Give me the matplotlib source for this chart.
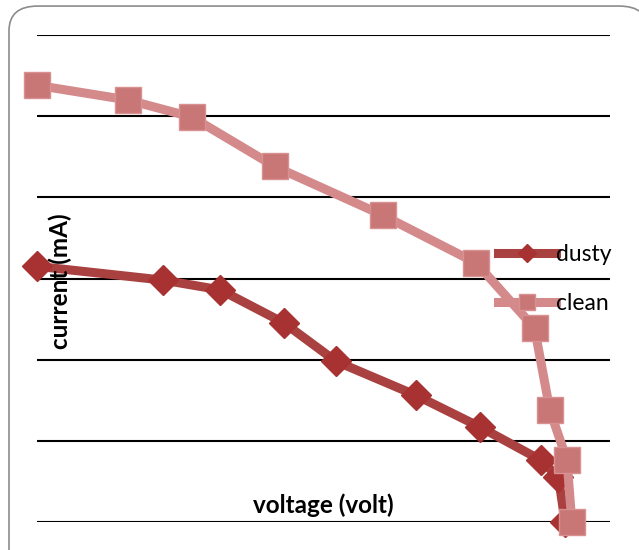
import matplotlib
matplotlib.use("Agg")
from matplotlib import pyplot as plt
from matplotlib.patches import FancyBboxPatch

plt.rcParams['font.family'] = ['Lato', 'DejaVu Sans']

# voltage (volt) and current (mA)
v_clean = [0, 0.095, 0.162, 0.249, 0.362, 0.460, 0.521, 0.537, 0.555, 0.560]
i_clean = [5.38, 5.20, 4.99, 4.38, 3.78, 3.19, 2.39, 1.38, 0.76, 0.0]
v_dusty = [0, 0.132, 0.192, 0.259, 0.313, 0.397, 0.464, 0.528, 0.546, 0.553]
i_dusty = [3.15, 2.98, 2.86, 2.45, 1.98, 1.56, 1.17, 0.76, 0.55, 0.0]
grid_levels = [0, 1, 2, 3, 4, 5, 6]

fig = plt.figure(figsize=(6.39, 5.5), dpi=100)

# rounded chart border
border = FancyBboxPatch((9/639, -0.05), 1.0, 1.039, boxstyle="round,pad=0,rounding_size=0.045",
                        transform=fig.transFigure, facecolor='white', edgecolor='#8c8c8c', lw=1.2, zorder=-5)
fig.patches.append(border)

ax = fig.add_axes([37/639, 1-522/550, 573/639, 487/550])
ax.set_facecolor('none')
for g in grid_levels:
	ax.axhline(g, color='black', lw=1.5, zorder=1)

ax.plot(v_dusty, i_dusty, color='#A8413F', lw=6.5, marker='D', markersize=15,
        markerfacecolor='#A83232', markeredgecolor='#A83232', label='dusty', clip_on=False, zorder=3)
ax.plot(v_clean, i_clean, color='#D48A8A', lw=6.5, marker='s', markersize=19,
        markerfacecolor='#C97676', markeredgecolor='#D89090', label='clean', clip_on=False, zorder=4)

ax.set_xlim(0, 0.6)
ax.set_ylim(0, 6)
ax.set_xticks([])
ax.set_yticks([])
for s in ax.spines.values():
	s.set_visible(False)

fig.text(323/639, 1-505/550, 'voltage (volt)', ha='center', va='center', fontsize=17.5, fontweight='bold')
fig.text(60/639, 1-281/550, 'current (mA)', ha='center', va='center', rotation=90, fontsize=17.5, fontweight='bold')

ax.legend(loc='center left', bbox_to_anchor=(487/639, 1-279/550), bbox_transform=fig.transFigure,
          frameon=False, fontsize=16.5, handlelength=2.5, handletextpad=0.0, borderpad=0,
          labelspacing=1.2, markerscale=0.6)

fig.savefig('out.png', dpi=100)
